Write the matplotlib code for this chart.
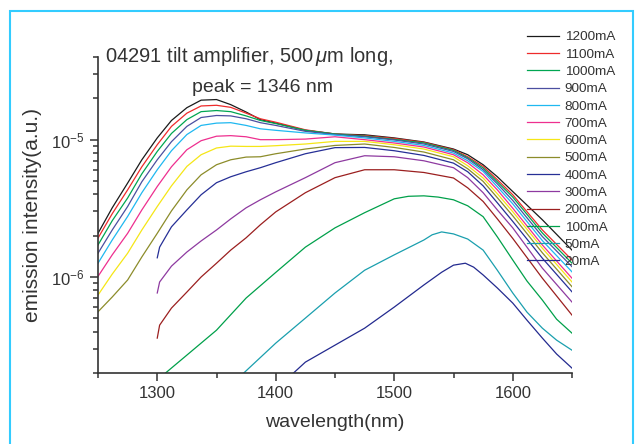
import numpy as np
import matplotlib
matplotlib.use("Agg")
from matplotlib import pyplot as plt
from matplotlib.ticker import MultipleLocator, LogLocator, NullFormatter
from matplotlib.patches import Rectangle

plt.rcParams['font.family'] = ['Liberation Sans', 'DejaVu Sans']
plt.rcParams['mathtext.fontset'] = 'custom'
plt.rcParams['mathtext.rm'] = 'Liberation Sans'
plt.rcParams['mathtext.it'] = 'Liberation Sans:italic'

# wavelength grids (nm)
wl_hi = [1250, 1262, 1275, 1287, 1300, 1312, 1325, 1337, 1350, 1362, 1375,
         1387, 1400, 1425, 1450, 1475, 1500, 1525, 1550, 1562, 1575, 1587,
         1600, 1625, 1650]
wl_mid = [1300, 1302, 1312, 1325, 1337, 1350, 1362, 1375, 1387, 1400, 1425,
          1450, 1475, 1500, 1525, 1550, 1562, 1575, 1587, 1600, 1625, 1650]
wl_100 = [1307, 1325, 1350, 1375, 1400, 1425, 1450, 1475, 1500, 1512, 1525,
          1537, 1550, 1562, 1575, 1587, 1600, 1612, 1625, 1637, 1650]
wl_50 = [1373, 1400, 1425, 1450, 1475, 1500, 1525, 1532, 1540, 1550, 1562,
         1575, 1587, 1600, 1612, 1625, 1637, 1650]
wl_20 = [1415, 1425, 1450, 1475, 1500, 1525, 1540, 1550, 1560, 1567, 1575,
         1587, 1600, 1612, 1625, 1637, 1650]

# emission intensity, in units of 1e-6 a.u.
i1200 = [2.08, 3.19, 4.83, 7.14, 10.3, 13.8, 17.1, 19.4, 19.6, 18.0, 15.9,
         14.0, 13.2, 11.7, 11.0, 10.85, 10.3, 9.62, 8.55, 7.77, 6.57, 5.37,
         4.19, 2.61, 1.57]
i1100 = [1.92, 2.89, 4.31, 6.35, 9.19, 12.5, 15.6, 17.6, 17.8, 17.2, 15.6,
         14.2, 13.4, 11.8, 11.0, 10.7, 10.2, 9.55, 8.45, 7.51, 6.39, 5.11,
         3.97, 2.20, 1.33]
i1000 = [1.71, 2.57, 3.76, 5.64, 8.21, 11.1, 14.0, 16.0, 16.3, 16.0, 14.9,
         13.8, 13.1, 11.7, 11.0, 10.6, 10.05, 9.46, 8.35, 7.38, 6.22, 4.94,
         3.82, 2.09, 1.26]
i900 = [1.49, 2.20, 3.26, 4.94, 7.14, 9.67, 12.5, 14.5, 15.0, 14.9, 14.2,
        13.3, 12.7, 11.5, 10.9, 10.5, 9.95, 9.30, 8.21, 7.26, 6.04, 4.77,
        3.61, 1.97, 1.19]
i800 = [1.26, 1.86, 2.76, 4.11, 6.04, 8.31, 10.9, 12.7, 13.2, 13.3, 12.7,
        12.0, 11.7, 11.2, 10.8, 10.3, 9.72, 9.08, 7.99, 7.02, 5.87, 4.54,
        3.41, 1.84, 1.09]
i700 = [1.01, 1.45, 2.08, 3.08, 4.56, 6.35, 8.45, 9.83, 10.6, 10.7, 10.5,
        10.0, 10.0, 10.1, 10.5, 10.0, 9.46, 8.84, 7.77, 6.79, 5.55, 4.31,
        3.17, 1.71, 0.98]
i600 = [0.739, 1.05, 1.49, 2.20, 3.26, 4.61, 6.39, 7.77, 8.70, 8.97, 8.93,
        8.93, 9.04, 9.30, 9.72, 9.72, 9.19, 8.55, 7.51, 6.46, 5.26, 4.04,
        2.99, 1.62, 0.92]
i500 = [0.558, 0.715, 0.951, 1.40, 2.08, 3.03, 4.31, 5.55, 6.57, 7.14, 7.47,
        7.51, 7.90, 8.55, 9.08, 9.30, 8.78, 8.13, 7.14, 6.14, 4.97, 3.78,
        2.79, 1.50, 0.85]
i400 = [1.38, 1.65, 2.32, 3.08, 3.97, 4.86, 5.37, 5.84, 6.25, 6.80, 7.90,
        8.75, 8.78, 8.31, 7.68, 6.75, 5.84, 4.61, 3.47, 2.54, 1.37, 0.78]
i300 = [0.765, 0.920, 1.20, 1.52, 1.83, 2.20, 2.65, 3.19, 3.65, 4.17, 5.29,
        6.80, 7.64, 7.51, 7.02, 6.25, 5.29, 4.11, 3.08, 2.28, 1.16, 0.657]
i200 = [0.359, 0.446, 0.594, 0.777, 1.00, 1.26, 1.57, 1.93, 2.40, 2.98, 4.11,
        5.29, 6.04, 6.04, 5.77, 5.26, 4.46, 3.55, 2.65, 1.91, 0.98, 0.528]
i100 = [0.200, 0.270, 0.410, 0.703, 1.08, 1.65, 2.28, 2.94, 3.71, 3.87, 3.90,
        3.82, 3.65, 3.30, 2.75, 1.96, 1.33, 0.935, 0.679, 0.493, 0.39]
i50 = [0.200, 0.330, 0.502, 0.765, 1.12, 1.45, 1.86, 2.03, 2.13, 2.06, 1.89,
       1.57, 1.12, 0.765, 0.555, 0.424, 0.347, 0.293]
i20 = [0.200, 0.240, 0.319, 0.424, 0.604, 0.875, 1.083, 1.22, 1.26, 1.18,
       1.035, 0.832, 0.646, 0.485, 0.359, 0.275, 0.217]

labels = ["1200mA", "1100mA", "1000mA", "900mA", "800mA", "700mA", "600mA",
          "500mA", "400mA", "300mA", "200mA", "100mA", "50mA", "20mA"]
series = [(wl_hi, i1200), (wl_hi, i1100), (wl_hi, i1000), (wl_hi, i900),
          (wl_hi, i800), (wl_hi, i700), (wl_hi, i600), (wl_hi, i500),
          (wl_mid, i400), (wl_mid, i300), (wl_mid, i200),
          (wl_100, i100), (wl_50, i50), (wl_20, i20)]
colors = ["#1a1a1a", "#ee2b2b", "#00a651", "#4b4fa0", "#1fb8f0", "#ee2f8f",
          "#f5e616", "#8c8c2a", "#262f96", "#8e3aa0", "#9b1f1f", "#00a04a",
          "#1a9fae", "#232a8f"]

fig = plt.figure(figsize=(6.36, 4.44), dpi=100)
ax = fig.add_axes([98/636, 1-373/444, (572-98)/636, (373-57)/444])

handles = []
for (wl, vals), lab, c in zip(series, labels, colors):
    h, = ax.semilogy(wl, np.array(vals) * 1e-6, "-", color=c, lw=0.9, label=lab)
    handles.append(h)

ax.set_xlim(1250, 1650)
ax.set_ylim(2e-7, 4e-5)
ax.xaxis.set_major_locator(MultipleLocator(100))
ax.xaxis.set_minor_locator(MultipleLocator(50))
ax.yaxis.set_major_locator(LogLocator(base=10))
ax.yaxis.set_minor_locator(LogLocator(base=10, subs=np.arange(2, 10)))
ax.yaxis.set_minor_formatter(NullFormatter())

for s in ["top", "right"]:
    ax.spines[s].set_visible(False)
for s in ["left", "bottom"]:
    ax.spines[s].set_color("#333333")
    ax.spines[s].set_linewidth(1.2)
ax.tick_params(which="both", direction="out", color="#333333", width=1.1,
               labelsize=12, labelcolor="#333333")
ax.tick_params(which="major", length=6)
ax.tick_params(which="minor", length=3.5)

ax.set_xlabel("wavelength(nm)", fontsize=14, color="#333333", labelpad=9)
ax.set_ylabel("emission intensity(a.u.)", fontsize=15, color="#333333", labelpad=7)

fig.text(105/636, 1-57/444, r"04291 tilt amplifier, 500$\,\mu$m long,",
         fontsize=14.5, color="#333333", va="center", ha="left")
fig.text(262/636, 1-87/444, "peak = 1346 nm",
         fontsize=14, color="#333333", va="center", ha="center")

fig.legend(handles=handles, loc="upper left", bbox_to_anchor=(527/636, 1-31/444),
           frameon=False, fontsize=9.7, handlelength=2.4, handletextpad=0.4,
           labelspacing=0.36, borderpad=0, borderaxespad=0,
           labelcolor="#333333")

fig.patches.append(Rectangle((10/636, -0.1), 623/636, 1.1 - 11/444,
                             transform=fig.transFigure, fill=False,
                             edgecolor="#33ccff", lw=1.5))

fig.savefig("out.png", dpi=100)
